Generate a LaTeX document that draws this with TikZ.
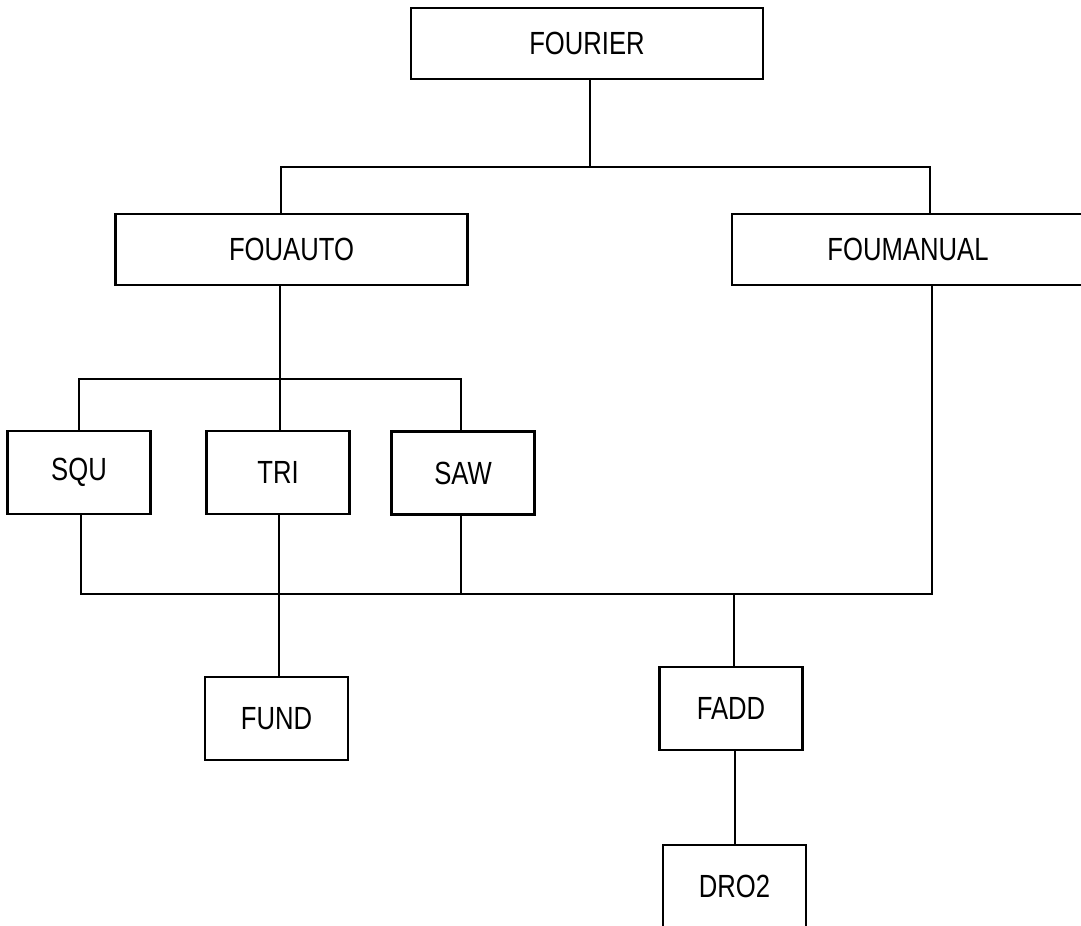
\documentclass[tikz,border=0pt]{standalone}
\usepackage{fontspec}
\setmainfont{Liberation Sans}[FakeStretch=0.8]
\begin{document}
\begin{tikzpicture}[x=0.025cm, y=-0.025cm,
  box/.style={draw, line width=1.6pt, inner sep=0pt,
    font=\fontsize{22.8}{27}\selectfont},
  wide/.style={box, minimum width=8.8cm, minimum height=1.775cm},
  small/.style={box, minimum width=3.575cm, minimum height=2.075cm},
  wire/.style={line width=1.6pt}]
\useasboundingbox (0,0) rectangle (1081,926);

% boxes of the program tree
\node[wide]  (fourier)   at (587,43.5)  {FOURIER};
\node[wide]  (fouauto)   at (291.5,249.5) {FOUAUTO};
\node[wide]  (foumanual) at (908,249.5) {FOUMANUAL};
\node[small] (squ)  at (79,472.5)   {SQU};
\node[small] (tri)  at (278,472.5)  {TRI};
\node[small] (saw)  at (463,473)    {SAW};
\node[small] (fund) at (276.5,718.5) {FUND};
\node[small] (fadd) at (731,708.5)  {FADD};
\node[small] (dro2) at (734.5,886.5) {DRO2};

% first level
\draw[wire] (590,0 |- fourier.south) -- (590,167);
\draw[wire] (281,0 |- fouauto.north) |- (930,167) -- (930,0 |- foumanual.north);

% second level
\draw[wire] (280,0 |- fouauto.south) -- (280,0 |- tri.north);
\draw[wire] (79,0 |- squ.north) |- (461,379) -- (461,0 |- saw.north);

% joining bus
\draw[wire] (81,0 |- squ.south) |- (932,594) -- (932,0 |- foumanual.south);
\draw[wire] (461,0 |- saw.south) -- (461,594);
\draw[wire] (279,0 |- tri.south) -- (279,0 |- fund.north);
\draw[wire] (734,594) -- (734,0 |- fadd.north);
\draw[wire] (735,0 |- fadd.south) -- (735,0 |- dro2.north);
\end{tikzpicture}
\end{document}
